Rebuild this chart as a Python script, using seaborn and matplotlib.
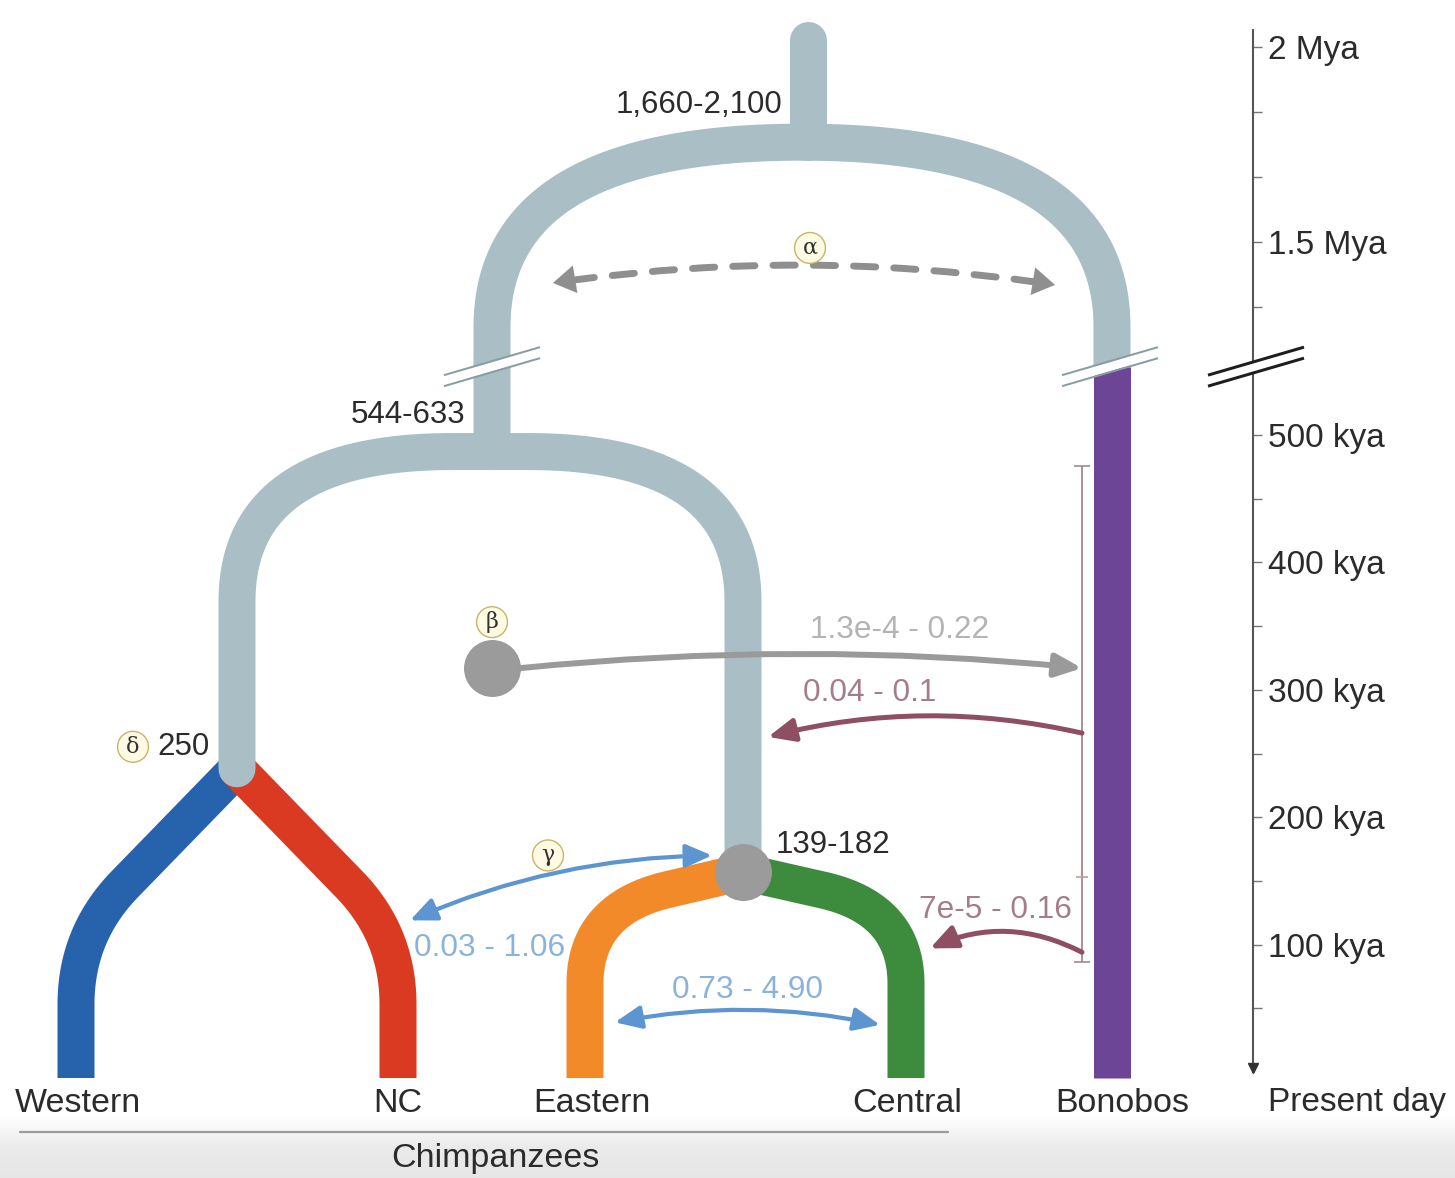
import numpy as np
import matplotlib
matplotlib.use('Agg')
import matplotlib.pyplot as plt
from matplotlib.colors import LinearSegmentedColormap
import seaborn as sns

sns.set_style('white')
plt.rcParams['font.family'] = ['Liberation Sans', 'DejaVu Sans']

# ---------------- data ----------------
leaves = ['Western', 'NC', 'Eastern', 'Central', 'Bonobos']
leaf_x = [76, 398, 585, 906, 1112]
leaf_colors = ['#2763ad', '#da3a22', '#f28a2a', '#3d8b3d', '#6c4597']
leaf_bend_age = [108, 108, 128, 128]      # where the chimp branches turn vertical

# root, Pan split, Western/NC split, Eastern/Central split
node_x = [808, 492, 237, 743]
node_age = [1756, 487, 238, 157]          # kya, as drawn on the time axis
node_text = ['1,660-2,100', '544-633', '250', '139-182']

tick_ages = [2000, 1500, 500, 400, 300, 200, 100]
tick_text = ['2 Mya', '1.5 Mya', '500 kya', '400 kya', '300 kya', '200 kya', '100 kya']
minor_ages = [1833, 1667, 1333, 450, 350, 250, 150, 50]
break_age = 900

beta_age = 317
bonobo_range = [86, 153, 476]             # low, mid, high (kya)

mig_text = ['1.3e-4 - 0.22', '0.04 - 0.1', '7e-5 - 0.16', '0.03 - 1.06', '0.73 - 4.90']
mig_from = [(520, 317), (1082, 266), (1082, 94), (410, 119), (615, 39)]
mig_to = [(1082, 317), (768, 263), (930, 97), (712, 170), (880, 37)]
mig_color = ['#9a9a9a', '#8e4f62', '#8e4f62', '#5c95cf', '#5c95cf']
mig_text_color = ['#b4b4b4', '#a47d8b', '#a47d8b', '#8ab3dc', '#8ab3dc']
mig_both = [False, False, False, True, True]
mig_rad = [-0.05, 0.12, 0.24, -0.1, -0.1]
mig_text_off = [(-182, 38), (-212, 40), (-87, 42), (80, -28), (133, 32)]
alpha_from, alpha_to = (553, 1395), (1055, 1390)

GRAY = '#aabec6'
NODE = '#9b9b9b'
LW = 37 * 0.72

# ---------------- broken time scale ----------------
K_LO, K_HI, C_HI = 1.274, 0.39, 245.0
LO_END, HI_START = 540.0, 1220.0
A = LO_END * K_LO
B = C_HI + HI_START * K_HI


def fwd(t):
    t = np.asarray(t, dtype=float)
    mid = A + (t - LO_END) * (B - A) / (HI_START - LO_END)
    return np.where(t <= LO_END, t * K_LO, np.where(t >= HI_START, C_HI + t * K_HI, mid))


def inv(v):
    v = np.asarray(v, dtype=float)
    mid = LO_END + (v - A) * (HI_START - LO_END) / (B - A)
    return np.where(v <= A, v / K_LO, np.where(v >= B, (v - C_HI) / K_HI, mid))


fig = plt.figure(figsize=(14.55, 11.78), dpi=100)
fig.patch.set_facecolor('white')

# grey band at the very bottom
bg = fig.add_axes([0, 0, 1, 62 / 1178], zorder=0)
cm = LinearSegmentedColormap.from_list('band', ['#e6e6e6', '#ebebeb', '#ffffff'])
bg.imshow(np.linspace(0, 1, 100)[:, None], aspect='auto', cmap=cm, origin='lower', extent=[0, 1, 0, 1])
bg.axis('off')

ax = fig.add_axes([0, 0, 1, 1], zorder=1)
ax.patch.set_alpha(0)
ax.set_yscale('function', functions=(fwd, inv))
ax.set_xlim(0, 1455)
ax.set_ylim(float(inv(-106)), float(inv(1072)))


def rounded(pts, radii):
    # radii: one (before, after) pair per interior vertex
    pts = np.asarray(pts, dtype=float)
    out = [pts[0]]
    for i in range(1, len(pts) - 1):
        p0, p1, p2 = pts[i - 1], pts[i], pts[i + 1]
        r1, r2 = radii[i - 1]
        d1 = (p0 - p1) / np.linalg.norm(p0 - p1)
        d2 = (p2 - p1) / np.linalg.norm(p2 - p1)
        a, b = p1 + d1 * r1, p1 + d2 * r2
        s = np.linspace(0, 1, 50)[:, None]
        out.extend((1 - s) ** 2 * a + 2 * (1 - s) * s * p1 + s ** 2 * b)
    out.append(pts[-1])
    return np.array(out)


def branch(pts, radii, color, cap='butt', z=2):
    p = rounded(pts, radii)
    ax.plot(p[:, 0], inv(p[:, 1]), color=color, lw=LW, solid_capstyle=cap,
            solid_joinstyle='round', zorder=z)


v = fwd(node_age)
v_break = float(fwd(break_age))
LEAF_END = -6

# chimp leaf branches
for i in range(4):
    parent = 2 if i < 2 else 3
    r = (70, 70) if i < 2 else (85, 75)
    branch([(node_x[parent], v[parent]), (leaf_x[i], fwd(leaf_bend_age[i])), (leaf_x[i], LEAF_END)],
           [r], leaf_colors[i])

# grey ancestral lineages
branch([(node_x[0], v[0]), (node_x[0], fwd(2018))], [], GRAY, cap='round', z=3)
half_top = (leaf_x[4] - node_x[1]) / 2
branch([(node_x[1], v[1]), (node_x[1], v[0]), (leaf_x[4], v[0]), (leaf_x[4], v_break)],
       [(185, half_top), (half_top, 185)], GRAY, cap='round', z=3)
branch([(node_x[2], v[2]), (node_x[2], v[1]), (node_x[3], v[1]), (node_x[3], v[3])],
       [(150, 215), (215, 150)], GRAY, cap='round', z=3)
# bonobo
branch([(leaf_x[4], v_break), (leaf_x[4], LEAF_END)], [], leaf_colors[4], z=3)

# grey nodes
ax.plot([node_x[3], node_x[1]], [node_age[3], beta_age], 'o', ms=40, color=NODE, mec=NODE, zorder=4)


# break marks
def break_mark(xc, color, w, half=48):
    xs = np.array([xc - half, xc + half])
    for dv, c, lw in [(0, 'white', 9), (-5.5, color, w), (5.5, color, w)]:
        ax.plot(xs, inv(np.array([v_break - 14, v_break + 14]) + dv), color=c, lw=lw * 0.72,
                solid_capstyle='butt', zorder=6)


break_mark(node_x[1], '#8a9ca4', 2)
break_mark(1110, '#8a9ca4', 2)
break_mark(1256, '#1e1e1e', 3)

# bonobo divergence interval
lo, mid, hi = bonobo_range
ax.errorbar([1082], [mid], yerr=[[mid - lo], [hi - mid]], fmt='_', ms=8, mew=1.2, color='#c49a9e',
            ecolor='#a08a8c', elinewidth=1.3, capsize=6, capthick=1.3, zorder=3)

# migration arrows
for i in range(len(mig_text)):
    style = '<|-|>' if mig_both[i] else '-|>'
    lw = 4.3 if i == 0 else (3.6 if i < 3 else 3.0)
    ax.annotate('', xy=mig_to[i], xytext=mig_from[i],
                arrowprops=dict(arrowstyle=style + ',head_length=0.8,head_width=0.35', lw=lw,
                                color=mig_color[i], connectionstyle='arc3,rad=%s' % mig_rad[i],
                                shrinkA=0, shrinkB=0, mutation_scale=20), zorder=5)
    anchor = mig_to[i] if i == 0 else mig_from[i]
    ax.annotate(mig_text[i], xy=anchor, xytext=mig_text_off[i], textcoords='offset pixels',
                ha='center', va='center', fontsize=22.7, color=mig_text_color[i], zorder=6)

# alpha: dashed two-way arrow
ax.annotate('', xy=alpha_to, xytext=alpha_from,
            arrowprops=dict(arrowstyle='-', lw=5, color='#8f8f8f', linestyle=(0, (3.2, 2.6)),
                            connectionstyle='arc3,rad=-0.075', shrinkA=14, shrinkB=14), zorder=5)
for end, off in [(alpha_from, (30, 5)), (alpha_to, (-30, 5))]:
    ax.annotate('', xy=end, xytext=off, textcoords='offset pixels',
                arrowprops=dict(arrowstyle='-|>,head_length=0.8,head_width=0.5', lw=0.1,
                                color='#8f8f8f', shrinkA=0, shrinkB=0, mutation_scale=20), zorder=5)


def greek(ch, xy, off):
    ax.annotate(ch, xy=xy, xytext=off, textcoords='offset pixels', ha='center', va='center',
                fontsize=16, family='DejaVu Serif', color='#333333',
                bbox=dict(boxstyle='circle,pad=0.2', fc='#fffbe3', ec='#c8b46a', lw=1), zorder=7)


greek('\u03b1', alpha_from, (257, 35))
greek('\u03b2', (node_x[1], beta_age), (0, 46))
greek('\u03b3', mig_to[3], (-164, 0))
greek('\u03b4', (node_x[2], node_age[2]), (-104, 22))

# node age labels
node_off = [(-26, 37), (-27, 37), (-27, 22), (33, 27)]
node_ha = ['right', 'right', 'right', 'left']
for i in range(4):
    ax.annotate(node_text[i], xy=(node_x[i], node_age[i]), xytext=node_off[i],
                textcoords='offset pixels', ha=node_ha[i], va='center', fontsize=22.5,
                color='#2b2b2b', zorder=7)

# leaf labels
label_x = [78, 398, 592, 907, 1122]
for name, lx in zip(leaves, label_x):
    ax.annotate(name, xy=(lx, 0), xytext=(0, -31), textcoords='offset pixels', ha='center',
                va='center', fontsize=24.5, color='#2b2b2b')
ax.plot([20, 948], inv([-60, -60]), color='#9a9a9a', lw=1.6)
ax.annotate('Chimpanzees', xy=(495, 0), xytext=(0, -87), textcoords='offset pixels', ha='center',
            va='center', fontsize=24.5, color='#2b2b2b')

# time axis
for s in ['left', 'top', 'bottom']:
    ax.spines[s].set_visible(False)
ax.spines['right'].set_position(('data', 1253))
ax.spines['right'].set_bounds(0, float(inv(1042)))
ax.spines['right'].set_color('#555555')
ax.spines['right'].set_linewidth(1.5)
ax.set_xticks([])
ax.yaxis.tick_right()
ax.set_yticks(tick_ages, tick_text)
ax.set_yticks(minor_ages, minor=True)
ax.tick_params(axis='y', which='both', direction='out', length=6.5, width=1, color='#777777',
               pad=4, labelsize=24, labelcolor='#2b2b2b')
ax.plot([1253], [float(inv(4))], marker='v', ms=7, color='#333333', zorder=5)
ax.annotate('Present day', xy=(1253, 0), xytext=(15, -31), textcoords='offset pixels', ha='left',
            va='center', fontsize=24, color='#2b2b2b')

fig.savefig('out.png', dpi=100)
